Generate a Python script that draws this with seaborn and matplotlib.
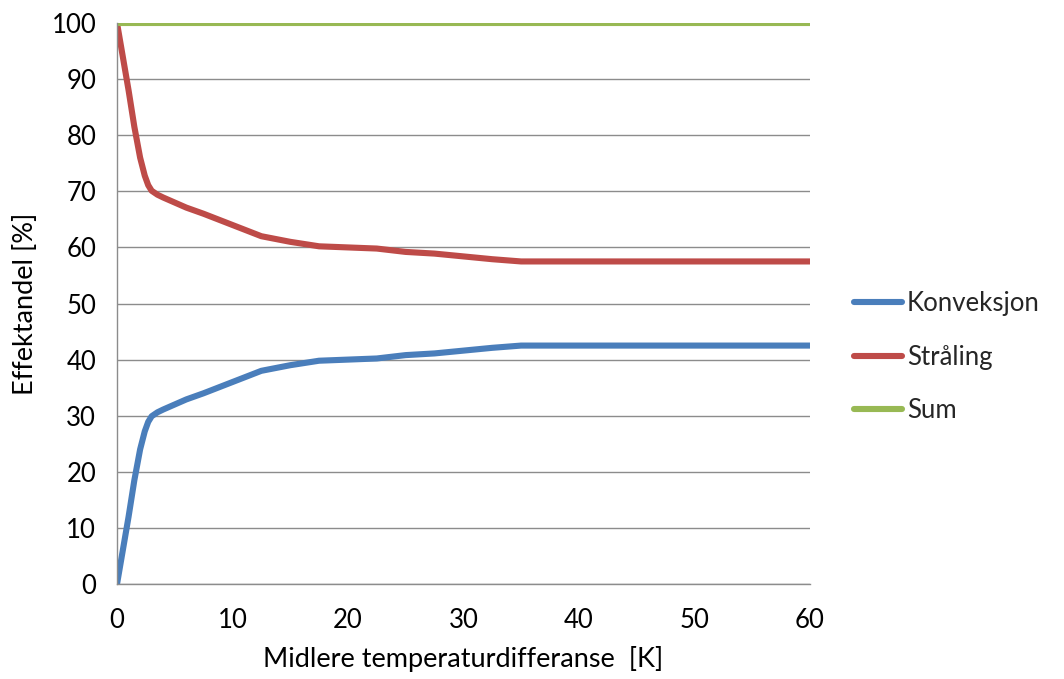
import matplotlib
matplotlib.use("Agg")
import matplotlib.pyplot as plt
import seaborn as sns
import pandas as pd
import numpy as np
from matplotlib.lines import Line2D

# Data
x_vals = [0, 0.5, 1, 1.5, 2, 2.4, 2.7, 3, 3.5, 4, 5, 6, 7.5, 10, 12.5, 15, 17.5, 20, 22.5,
          25, 27.5, 30, 32.5, 35, 36.5, 40, 45, 50, 55, 60]
konveksjon = [0, 6, 12, 18.5, 24.0, 27.2, 28.9, 29.9, 30.6, 31.1, 32.0, 32.9, 34.0, 36.0,
              38.0, 39.0, 39.8, 40.0, 40.2, 40.8, 41.1, 41.6, 42.1, 42.5, 42.5, 42.5, 42.5,
              42.5, 42.5, 42.5]
straaling = [100, 94, 88, 81.5, 76.0, 72.8, 71.1, 70.1, 69.4, 68.9, 68.0, 67.1, 66.0, 64.0,
             62.0, 61.0, 60.2, 60.0, 59.8, 59.2, 58.9, 58.4, 57.9, 57.5, 57.5, 57.5, 57.5,
             57.5, 57.5, 57.5]
sum_vals = [100] * len(x_vals)

series_names = ["Konveksjon", "Stråling", "Sum"]
colors = ["#4A7EBB", "#BE4B48", "#98B954"]

df = pd.DataFrame({
    "x": x_vals * 3,
    "y": konveksjon + straaling + sum_vals,
    "serie": [series_names[0]] * len(x_vals) + [series_names[1]] * len(x_vals)
             + [series_names[2]] * len(x_vals),
})

sns.set_theme(style="white")
plt.rcParams["font.family"] = ["Lato", "DejaVu Sans"]

fig = plt.figure(figsize=(10.64, 6.79), dpi=100)
ax = fig.add_axes([0.110, 0.140, 0.651, 0.826])

sns.lineplot(data=df, x="x", y="y", hue="serie", palette=colors, hue_order=series_names,
             linewidth=4.4, ax=ax, legend=False, sort=False)
for ln in ax.lines:
    ln.set_solid_capstyle("round")
    ln.set_solid_joinstyle("round")

ax.set_xlim(0, 60)
ax.set_ylim(0, 100)
ax.set_yticks(np.arange(0, 101, 10))
ticks_x = np.arange(0, 61, 2.5)
ax.set_xticks(ticks_x)
ax.set_xticklabels([f"{int(v)}" if v % 10 == 0 else "" for v in ticks_x])
ax.grid(axis="y", color="#8C8C8C", linewidth=1.0)
ax.grid(axis="x", visible=False)
ax.set_axisbelow(True)
for s in ["top", "right"]:
    ax.spines[s].set_visible(False)
for s in ["left", "bottom"]:
    ax.spines[s].set_color("#8C8C8C")
    ax.spines[s].set_linewidth(1.0)
ax.tick_params(axis="both", direction="out", length=6, width=1.0, color="#8C8C8C",
               labelsize=18.5, labelcolor="#000000", pad=11)
ax.tick_params(axis="y", pad=9)

ax.set_xlabel("Midlere temperaturdifferanse  [K]", fontsize=19.5, color="#000000", labelpad=10)
ax.set_ylabel("Effektandel [%]", fontsize=19.5, color="#000000", labelpad=10)

handles = [Line2D([0], [0], color=c, linewidth=4.4, solid_capstyle="round") for c in colors]
fig.legend(handles, series_names, loc="center left", bbox_to_anchor=(0.803, 0.474),
           frameon=False, fontsize=18.5, handlelength=1.85, handletextpad=0.2,
           labelspacing=1.12, borderpad=0, borderaxespad=0)

fig.savefig("out.png", dpi=100)
